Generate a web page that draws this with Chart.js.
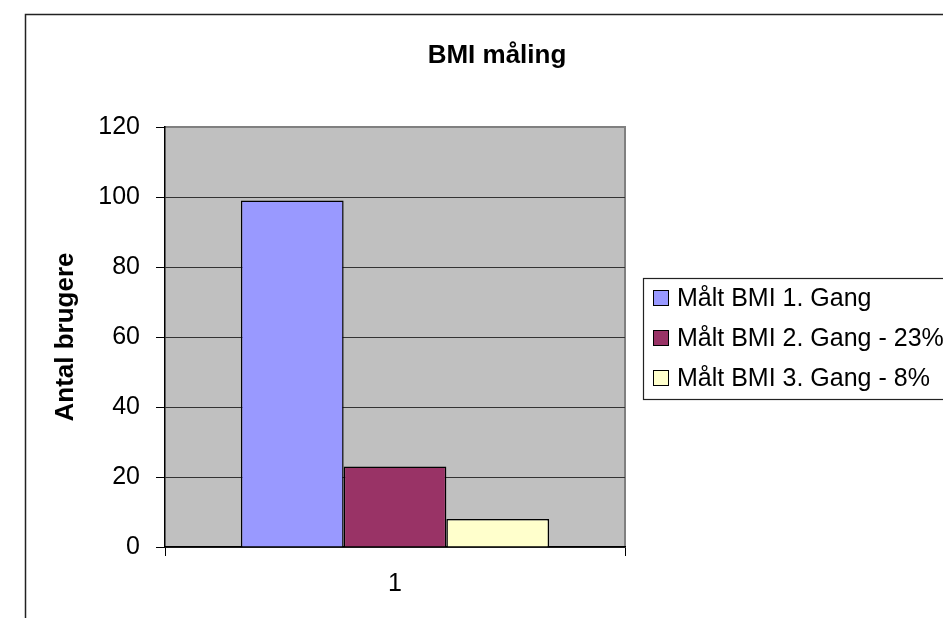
<!DOCTYPE html>
<html>
<head>
<meta charset="utf-8">
<title>BMI måling</title>
<script src="https://cdn.jsdelivr.net/npm/chart.js@4"></script>
<style>
  html, body { margin: 0; padding: 0; background: #fff; }
  #wrap { width: 943px; height: 618px; position: relative; }
</style>
</head>
<body>
<div id="wrap"><canvas id="bmiChart"></canvas></div>
<script>
// data
const chartTitle = 'BMI måling';
const categories = ['1'];
const seriesNames = ['Målt BMI 1. Gang', 'Målt BMI 2. Gang - 23%', 'Målt BMI 3. Gang - 8%'];
const gang1 = [99];
const gang2 = [23];
const gang3 = [8];
const seriesColors = ['#9999FF', '#993366', '#FFFFCC'];
const yMin = 0, yMax = 120, yStep = 20;

const FONT = "'Liberation Sans', Arial, sans-serif";
Chart.defaults.color = '#000';
Chart.defaults.font.family = FONT;

// outer chart frame, title and grey plot area
const frame = {
    id: 'frame',
    beforeDraw(chart) {
        const c = chart.ctx, a = chart.chartArea;
        c.save();
        c.fillStyle = '#fff';
        c.fillRect(0, 0, chart.width, chart.height);
        c.strokeStyle = '#222';
        c.lineWidth = 1.5;
        c.strokeRect(25.5, 14.5, chart.width + 20, chart.height + 20);
        // title is centred on the whole chart frame, not on the plot
        c.fillStyle = '#000';
        c.font = 'bold 26px ' + FONT;
        c.textAlign = 'center';
        c.textBaseline = 'middle';
        c.fillText(chartTitle, 497, 56);
        c.fillStyle = '#C0C0C0';
        c.fillRect(a.left, a.top, a.right - a.left, a.bottom - a.top);
        c.strokeStyle = '#808080';
        c.lineWidth = 2;
        c.beginPath();
        c.moveTo(a.left, a.top);
        c.lineTo(a.right, a.top);
        c.lineTo(a.right, a.bottom);
        c.stroke();
        c.restore();
    }
};

// legend box on the right, clipped by the page edge like the original
const boxLegend = {
    id: 'boxLegend',
    afterDraw(chart) {
        const c = chart.ctx;
        c.save();
        c.strokeStyle = '#222';
        c.lineWidth = 1.2;
        c.strokeRect(643.5, 278.5, 400, 121);
        c.font = '25px ' + FONT;
        c.textBaseline = 'middle';
        chart.data.datasets.forEach((ds, i) => {
            const y = 298 + i * 40;
            c.fillStyle = ds.backgroundColor;
            c.fillRect(653.5, y - 7.5, 15, 15);
            c.strokeStyle = '#000';
            c.lineWidth = 1;
            c.strokeRect(653.5, y - 7.5, 15, 15);
            c.fillStyle = '#000';
            c.fillText(ds.label, 677, y + 1);
        });
        c.restore();
    }
};

const datasets = [gang1, gang2, gang3].map((vals, i) => ({
    label: seriesNames[i],
    data: vals,
    backgroundColor: seriesColors[i],
    borderColor: '#000',
    borderWidth: 1.5,
    categoryPercentage: 0.67,
    barPercentage: 1
}));

const chart = new Chart(document.getElementById('bmiChart'), {
    type: 'bar',
    data: { labels: categories, datasets },
    plugins: [frame, boxLegend],
    options: {
        responsive: true,
        maintainAspectRatio: false,
        animation: false,
        layout: { padding: { left: 0, top: 127, right: 318, bottom: 0 } },
        plugins: {
            legend: { display: false },
            tooltip: { enabled: false },
            title: { display: false }
        },
        scales: {
            x: {
                offset: true,
                grid: { display: true, offset: true, drawOnChartArea: false, tickLength: 9, tickColor: '#000' },
                border: { color: '#000', width: 1.5 },
                ticks: { font: { size: 25 }, padding: 13 },
                afterFit(scale) { scale.height = 71; }
            },
            y: {
                min: yMin,
                max: yMax,
                ticks: { stepSize: yStep, font: { size: 25 }, padding: 16 },
                grid: {
                    color: (ctx) => ctx.tick && ctx.tick.value === yMax ? '#808080' : '#333',
                    tickColor: '#000',
                    tickLength: 9
                },
                border: { color: '#000', width: 1.5 },
                title: {
                    display: true,
                    text: 'Antal brugere',
                    font: { size: 26, weight: 'bold' },
                    padding: { top: 50, bottom: 0 }
                },
                afterFit(scale) { scale.width = 165; }
            }
        }
    }
});
</script>
</body>
</html>
